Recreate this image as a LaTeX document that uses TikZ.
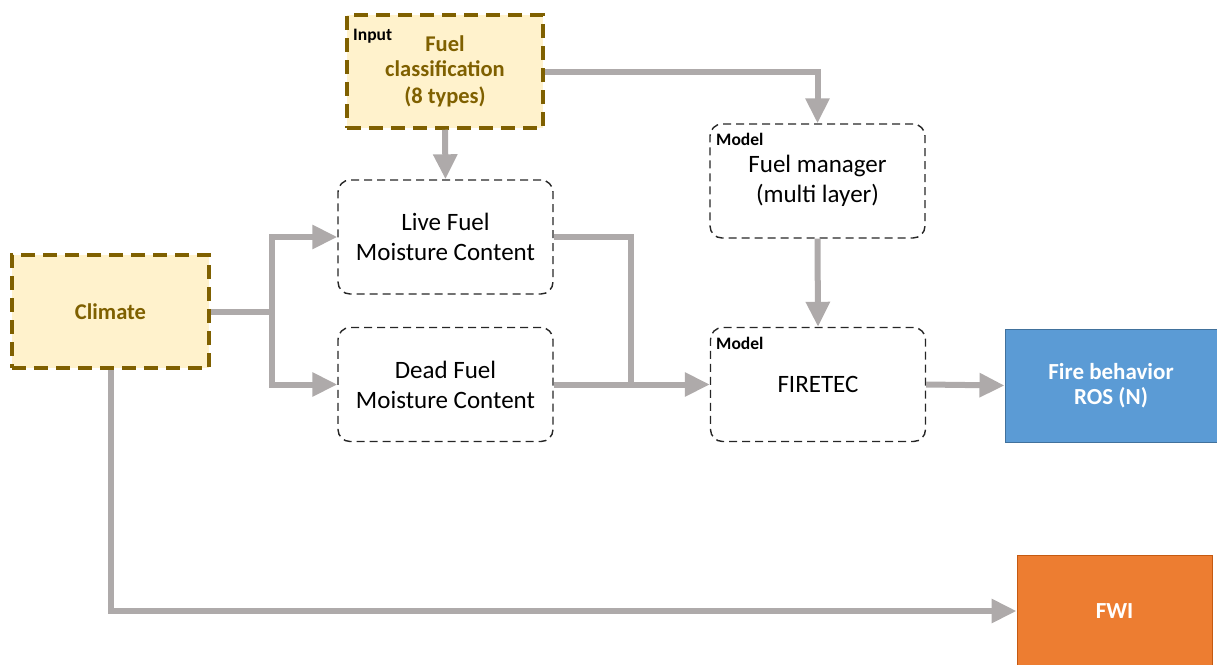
\documentclass[tikz,border=0pt]{standalone}
\usepackage{fontspec}
\setmainfont{Carlito}
\usetikzlibrary{arrows.meta}
\definecolor{gold}{HTML}{7F6000}
\definecolor{cream}{HTML}{FFF2CC}
\definecolor{arrowgray}{HTML}{AEAAAA}
\definecolor{boxgray}{HTML}{262626}
\definecolor{bluefill}{HTML}{5B9BD5}
\definecolor{blueline}{HTML}{41719C}
\definecolor{orangefill}{HTML}{ED7D31}
\definecolor{orangeline}{HTML}{C55A11}
\tikzset{
  inputbox/.style={draw=gold, fill=cream, line width=3.5pt, dash pattern=on 14pt off 8pt,
    minimum width=#1, text=gold, font=\fontsize{22.5}{27.5}\selectfont\bfseries, align=center, inner sep=0pt},
  modelbox/.style={draw=boxgray, line width=1.4pt, dash pattern=on 8pt off 5pt, rounded corners=12pt,
    minimum width=215pt, minimum height=114pt, font=\fontsize{25}{30}\selectfont, align=center, inner sep=0pt},
  outbox/.style={font=\fontsize{23}{28}\selectfont\bfseries, text=white, align=center, inner sep=0pt, line width=1pt},
  tag/.style={font=\fontsize{17.5}{20}\selectfont\bfseries, anchor=north west, inner sep=0pt},
  flow/.style={draw=arrowgray, line width=6pt},
  flowarrow/.style={flow, -{Triangle[length=25pt, width=23pt]}},
}
\begin{document}
\begin{tikzpicture}[x=1pt, y=-1pt]
\useasboundingbox (0,0) rectangle (1217,664);
% boxes
\node[inputbox=196pt, minimum height=113pt] (fc) at (445,71.5) {\raisebox{-3pt}{Fuel}\\classification\\(8 types)};
\node[tag] (fctag) at (353,29) {Input};
\node[inputbox=197pt, minimum height=113pt] (cl) at (110.5,311.5) {Climate};
\node[modelbox] (live) at (445.5,237) {Live Fuel\\Moisture Content};
\node[modelbox] (dead) at (445.5,384.5) {Dead Fuel\\Moisture Content};
\node[modelbox] (fm) at (817.5,181) {Fuel manager\\(multi layer)};
\node[tag] (fmtag) at (716,133) {Model};
\node[modelbox] (fire) at (818,384.5) {FIRETEC};
\node[tag] (firetag) at (716,337) {Model};
\node[outbox, draw=blueline, fill=bluefill, minimum width=212pt, minimum height=113pt] (ros) at (1111,385.5) {\raisebox{-3pt}{Fire behavior}\\ROS (N)};
\node[outbox, draw=orangeline, fill=orangefill, minimum width=195pt, minimum height=112pt] (fwi) at (1114.5,611) {\raisebox{-3pt}{FWI}};
% junctions
\coordinate (j1) at (272,311.5);
\coordinate (j2) at (631,237);
% connectors
\draw[flowarrow] (fc.east) -| (fm.north);
\draw[flowarrow] (fc.south) -- (live.north);
\draw[flow] (cl.east) -- (j1);
\draw[flowarrow] (j1) |- (live.west);
\draw[flowarrow] (j1) |- (dead.west);
\draw[flow] (live.east) -- (j2) -- (j2 |- dead.east);
\draw[flowarrow] (dead.east) -- (fire.west);
\draw[flowarrow] (fm.south) -- (fire.north);
\draw[flowarrow] (fire.east) -- (ros.west);
\draw[flowarrow] (cl.south) |- (fwi.west);
\end{tikzpicture}
\end{document}
